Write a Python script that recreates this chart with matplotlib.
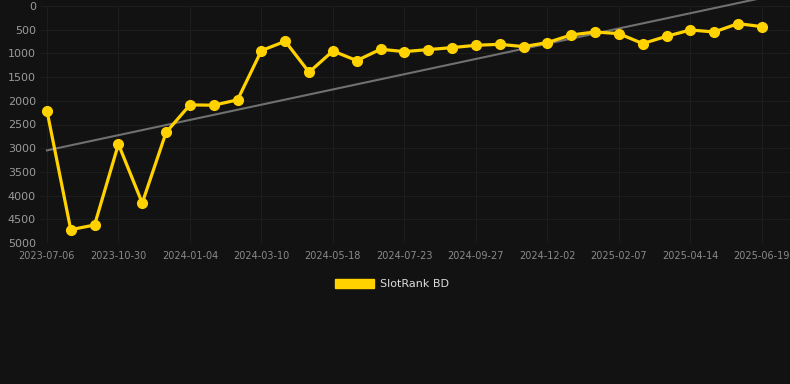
import numpy as np
import matplotlib
matplotlib.use("Agg")
import matplotlib.pyplot as plt
from matplotlib.patches import Patch

# rank per snapshot (lower = better)
ranks = [2205, 4719, 4620, 2914, 4157, 2668, 2086, 2093, 1980, 941, 744,
         1397, 948, 1152, 913, 962, 920, 878, 829, 808, 857, 772,
         611, 548, 583, 793, 639, 506, 548, 372, 435]
tick_labels = ["2023-07-06", "2023-10-30", "2024-01-04", "2024-03-10",
               "2024-05-18", "2024-07-23", "2024-09-27", "2024-12-02",
               "2025-02-07", "2025-04-14", "2025-06-19"]
y_ticks = [0, 500, 1000, 1500, 2000, 2500, 3000, 3500, 4000, 4500, 5000]
series_name = "SlotRank BD"

bg = "#121212"
yellow = "#FFD200"

x = np.arange(len(ranks))

fig = plt.figure(figsize=(7.9, 3.84), dpi=100, facecolor=bg)
ax = fig.add_axes([40/790, 1 - 243/384, 750/790, 237/384])
ax.set_facecolor(bg)

# linear trend
k, b = np.polyfit(x, ranks, 1)
ax.plot(x, k*x + b, color="#707070", lw=1.5, zorder=2, clip_on=False)

ax.plot(x, ranks, color=yellow, lw=2.3, marker="o", ms=7, zorder=3,
        clip_on=False)

ax.set_xlim(-0.29, 31.18)
ax.set_ylim(5000, 0)
ax.set_yticks(y_ticks)
ax.set_xticks(x[::3])
ax.set_xticklabels(tick_labels)

ax.grid(True, color="#1d1d1d", lw=0.8)
ax.set_axisbelow(True)
for s in ax.spines.values():
    s.set_visible(False)
ax.axhline(5000, color="#262626", lw=0.8, zorder=1)
ax.tick_params(axis="both", length=0, colors="#8a8a8a")
ax.tick_params(axis="y", labelsize=8, pad=3)
ax.tick_params(axis="x", labelsize=7, pad=6)
for lbl in ax.get_yticklabels():
    lbl.set_color("#9a9a9a")

handle = Patch(facecolor=yellow, edgecolor=yellow)
fig.legend([handle], [series_name], loc="center", bbox_to_anchor=(392/790, 1 - 284/384),
           frameon=False, fontsize=8, labelcolor="#dddddd",
           handlelength=3.5, handleheight=0.9, handletextpad=0.6)

fig.savefig("out.png", dpi=100, facecolor=bg)
